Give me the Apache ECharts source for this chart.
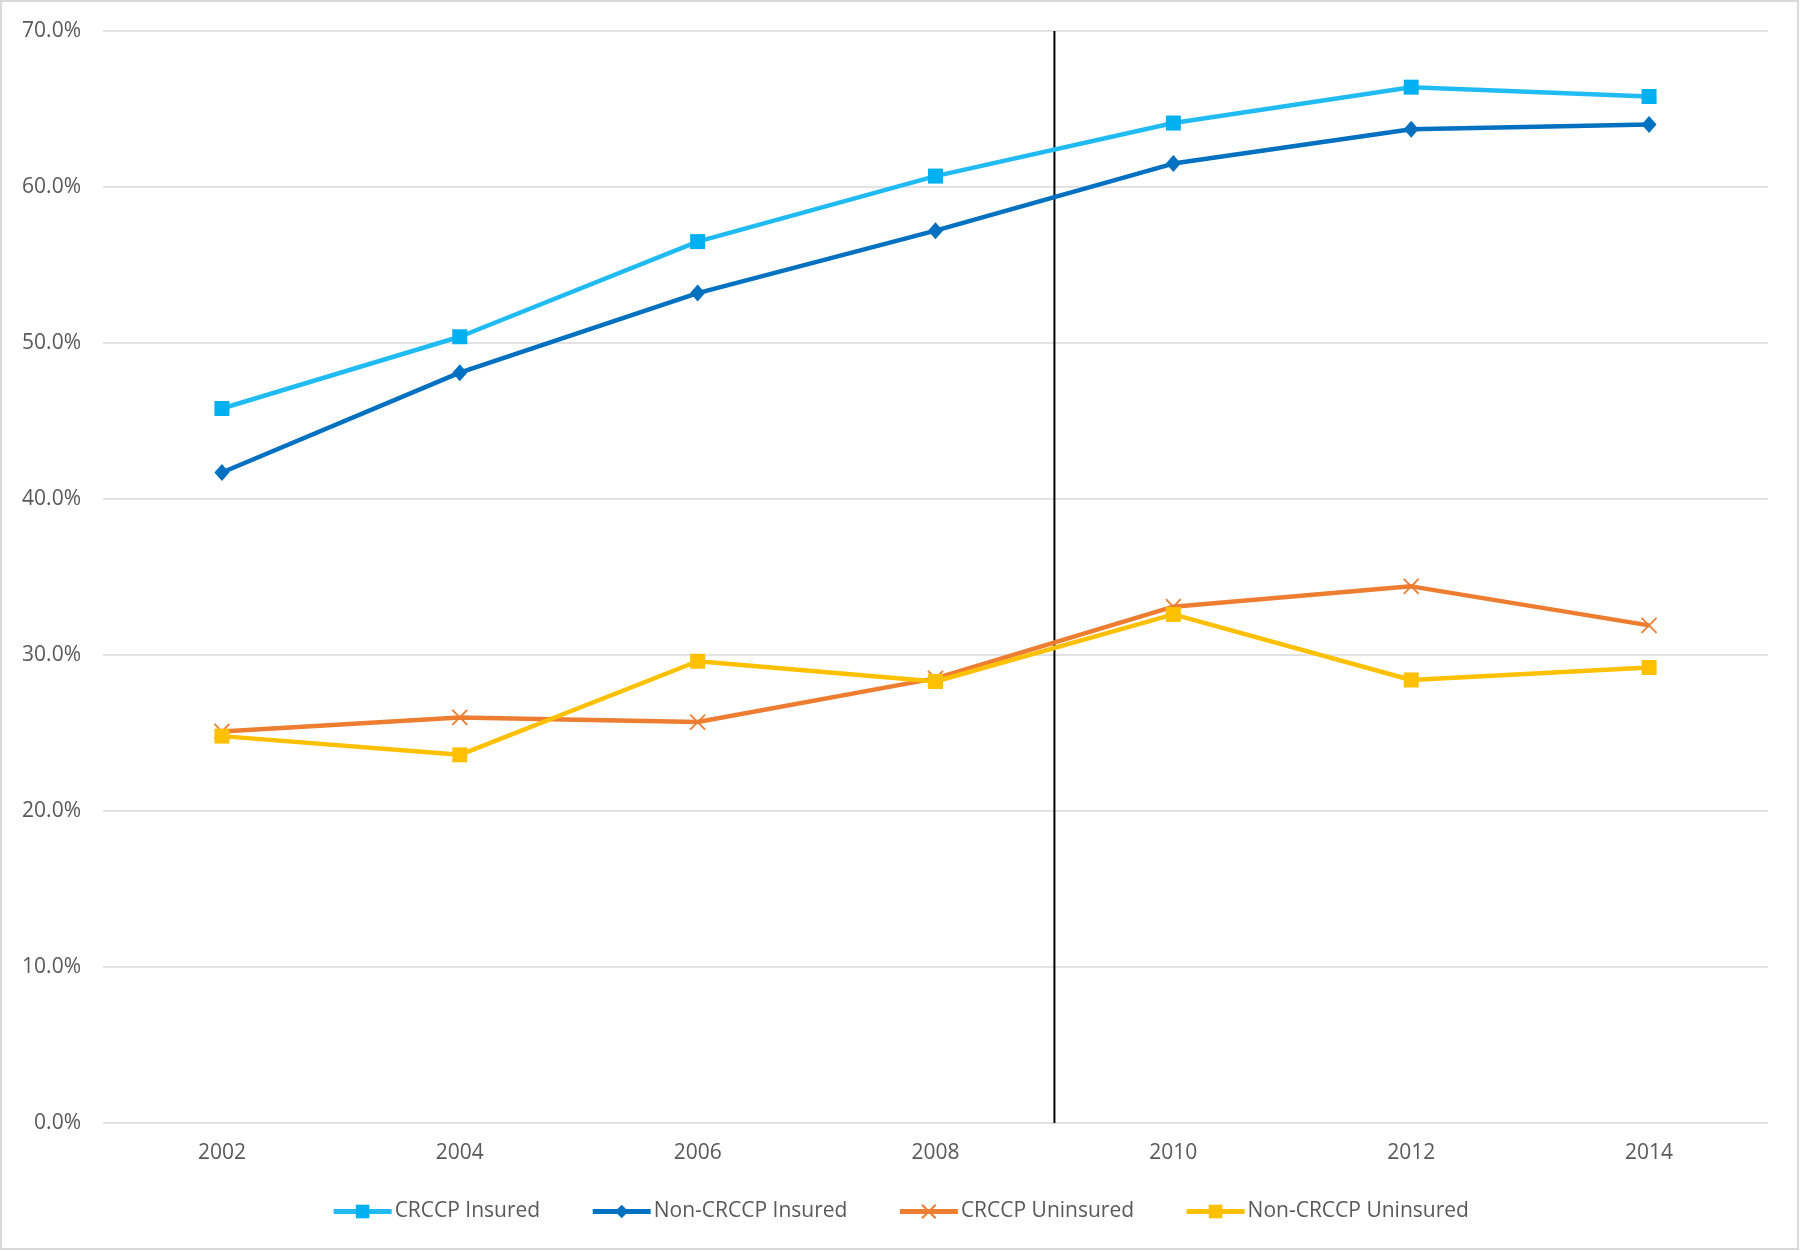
<!DOCTYPE html>
<html>
<head>
<meta charset="utf-8">
<script src="https://cdn.jsdelivr.net/npm/echarts@6/dist/echarts.min.js"></script>
<style>html,body{margin:0;padding:0;background:#fff}#c{width:1800px;height:1251px}</style>
</head>
<body>
<div id="c"></div>
<script>
const years = ['2002','2004','2006','2008','2010','2012','2014'];
const crccpInsured = [45.8, 50.4, 56.5, 60.7, 64.1, 66.4, 65.8];
const nonCrccpInsured = [41.7, 48.1, 53.2, 57.2, 61.5, 63.7, 64.0];
const crccpUninsured = [25.1, 26.0, 25.7, 28.5, 33.1, 34.4, 31.9];
const nonCrccpUninsured = [24.8, 23.6, 29.6, 28.3, 32.6, 28.4, 29.2];
const dividerPosition = 4; // boundary between 2008 and 2010 (year 2009)
const yTicks = [0, 10, 20, 30, 40, 50, 60, 70];
const seriesNames = ['CRCCP Insured', 'Non-CRCCP Insured', 'CRCCP Uninsured', 'Non-CRCCP Uninsured'];

const font = 'Open Sans';
const chart = echarts.init(document.getElementById('c'));
const X_PATH = 'path://M0,0 L10,10 M10,0 L0,10';

chart.setOption({
  animation: false,
  textStyle: {fontFamily: font},
  graphic: [{type: 'rect', shape: {x: 1, y: 1, width: 1797, height: 1248}, style: {fill: 'none', stroke: '#d9d9d9', lineWidth: 2}, silent: true}],
  grid: {left: 103, right: 32, top: 31, bottom: 128},
  legend: {
    bottom: 24, left: 'center', itemWidth: 58, itemHeight: 17, itemGap: 50,
    lineStyle: {width: 5},
    textStyle: {fontFamily: font, fontSize: 21, color: '#595959', padding: [0, 0, 0, -2]},
    data: seriesNames
  },
  xAxis: [{
    type: 'category', data: years, boundaryGap: true,
    axisLine: {show: false}, axisTick: {show: false},
    axisLabel: {fontFamily: font, fontSize: 21, color: '#595959', margin: 20}
  }, {
    type: 'value', min: 0, max: 7, show: false
  }],
  yAxis: {
    type: 'value', min: yTicks[0], max: yTicks[yTicks.length - 1], interval: 10,
    axisLine: {show: false}, axisTick: {show: false},
    splitLine: {lineStyle: {color: '#d9d9d9', width: 1.5}},
    axisLabel: {fontFamily: font, fontSize: 21, color: '#595959', margin: 22,
      formatter: v => v.toFixed(1) + '%'}
  },
  series: [
    {name: seriesNames[0], type: 'line', data: crccpInsured, symbol: 'rect', symbolSize: 15,
      lineStyle: {color: '#20bbf3', width: 4.5}, itemStyle: {color: '#00b0f0'}},
    {name: seriesNames[1], type: 'line', data: nonCrccpInsured, symbol: 'diamond', symbolSize: [15, 17],
      lineStyle: {color: '#0070c0', width: 4.5}, itemStyle: {color: '#0070c0'}},
    {name: seriesNames[2], type: 'line', data: crccpUninsured, symbol: X_PATH, symbolSize: 15,
      lineStyle: {color: '#ed7d31', width: 4.5}, itemStyle: {color: '#ed7d31', borderColor: '#ed7d31', borderWidth: 1.8}},
    {name: seriesNames[3], type: 'line', data: nonCrccpUninsured, symbol: 'rect', symbolSize: 15,
      lineStyle: {color: '#ffc000', width: 4.5}, itemStyle: {color: '#ffc000'}},
    {name: 'divider', type: 'line', xAxisIndex: 1, data: [[dividerPosition, yTicks[0]], [dividerPosition, yTicks[yTicks.length - 1]]],
      symbol: 'none', lineStyle: {color: '#000', width: 2}, silent: true, z: 1}
  ]
});
</script>
</body>
</html>
